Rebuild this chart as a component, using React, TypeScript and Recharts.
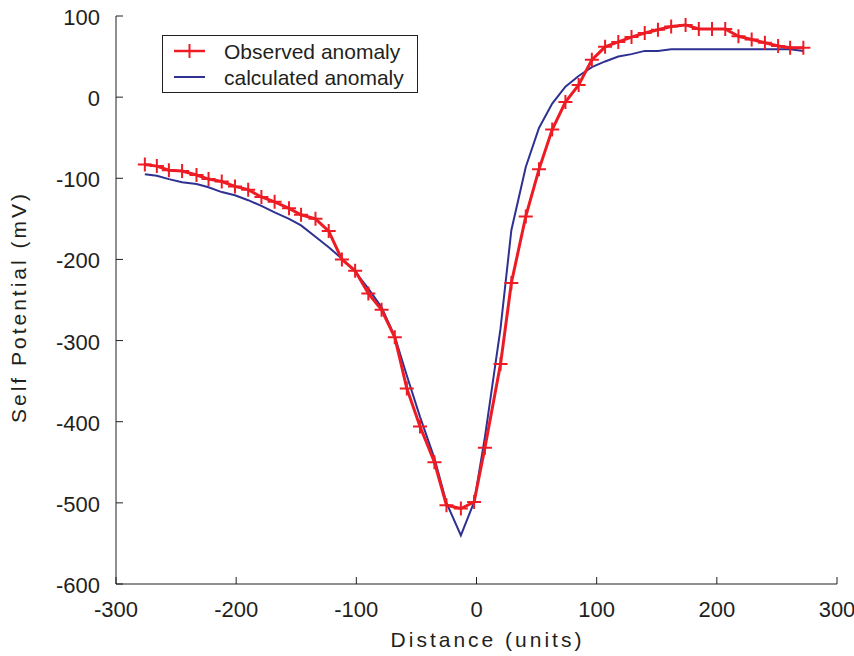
import { LineChart, Line, XAxis, YAxis, Legend, Label } from "recharts"

const RED = "#ED1C24"
const BLUE = "#2E3192"
const INK = "#231F20"
const FONT = "'Liberation Sans', Arial, sans-serif"

// distance of each station (units)
const distancia = [
  -276, -266, -256, -245, -233, -223, -212, -201, -190, -179, -168, -156, -146, -134, -123, -112, -101,
  -90, -79, -68, -58, -47, -35, -25, -13, -2, 7, 20, 29, 41, 52, 63, 74, 85, 96, 107, 118, 129, 140,
  151, 162, 174, 185, 196, 207, 218, 229, 240, 251, 261, 272,
]

const observado = [
  -83, -85, -90, -91, -96, -101, -104, -110, -114, -123, -129, -137, -145, -150, -165, -200, -214,
  -242, -262, -296, -359, -406, -450, -503, -507, -499, -432, -329, -229, -147, -89, -40, -6, 15, 46,
  62, 68, 74, 79, 83, 87, 89, 84, 84, 84, 75, 71, 67, 63, 61, 61,
]

const calculado = [
  -95, -97, -101, -105, -107, -111, -117, -121, -127, -134, -142, -150, -158, -172, -185, -199, -215,
  -236, -259, -295, -343, -394, -445, -500, -540, -499, -419, -285, -164, -86, -38, -8, 13, 26, 37,
  44, 50, 53, 57, 57, 59, 59, 59, 59, 59, 59, 59, 59, 59, 59, 57,
]

const ticksX = [-300, -200, -100, 0, 100, 200, 300]
const ticksY = [-600, -500, -400, -300, -200, -100, 0, 100]

const dados = distancia.map((x, i) => ({ x, obs: observado[i], calc: calculado[i] }))

const TICK = 7

function TickBaixo(p: any) {
  return (
    <g>
      <line x1={p.x} x2={p.x} y1={p.y} y2={p.y - TICK} stroke={INK} strokeWidth={1} />
      <text x={p.x} y={p.y + 33} textAnchor="middle" fontSize={22} fontFamily={FONT} fill={INK}>
        {p.payload.value}
      </text>
    </g>
  )
}

function TickCima(p: any) {
  return <line x1={p.x} x2={p.x} y1={p.y} y2={p.y + TICK} stroke={INK} strokeWidth={1} />
}

function TickEsq(p: any) {
  return (
    <g>
      <line x1={p.x} x2={p.x + TICK} y1={p.y} y2={p.y} stroke={INK} strokeWidth={1} />
      <text x={p.x - 16} y={p.y + 9} textAnchor="end" fontSize={22} fontFamily={FONT} fill={INK}>
        {p.payload.value}
      </text>
    </g>
  )
}

function TickDir(p: any) {
  return <line x1={p.x} x2={p.x - TICK} y1={p.y} y2={p.y} stroke={INK} strokeWidth={1} />
}

function Cruz(props: any) {
  const { cx, cy, index } = props
  if (cx == null || cy == null) return <g key={`c${index}`} />
  return (
    <path
      key={`c${index}`}
      d={`M${cx - 7},${cy}h14M${cx},${cy - 7}v14`}
      stroke={RED}
      strokeWidth={2}
      fill="none"
    />
  )
}

function Legenda() {
  return (
    <div style={{ width: 256, height: 58, border: `1px solid ${INK}`, background: "#fff", boxSizing: "border-box" }}>
      <svg width={254} height={56} style={{ display: "block" }}>
        <line x1={11} x2={42} y1={15} y2={15} stroke={RED} strokeWidth={2.5} />
        <path d="M26.5,8v14" stroke={RED} strokeWidth={2} />
        <text x={61} y={23} fontSize={21} fontFamily={FONT} fill={INK}>
          Observed anomaly
        </text>
        <line x1={11} x2={42} y1={41} y2={41} stroke={BLUE} strokeWidth={2} />
        <text x={61} y={49} fontSize={21} fontFamily={FONT} fill={INK}>
          calculated anomaly
        </text>
      </svg>
    </div>
  )
}

export default function App() {
  return (
    <div style={{ position: "absolute", left: 0, top: 0, width: 854, height: 656, background: "#fff" }}>
      <LineChart width={854} height={656} data={dados} margin={{ top: 16, right: 17, bottom: 0, left: 0 }}>
        <XAxis
          dataKey="x"
          type="number"
          domain={[-300, 300]}
          ticks={ticksX}
          height={72}
          stroke={INK}
          tickLine={false}
          tickSize={0}
          tickMargin={0}
          tick={TickBaixo}
          interval={0}
        >
          <Label
            content={(props: any) => {
              const vb = props.viewBox
              return (
                <text
                  x={vb.x + vb.width / 2 + 11}
                  y={vb.y + 63}
                  textAnchor="middle"
                  fontSize={21}
                  letterSpacing={3}
                  fontFamily={FONT}
                  fill={INK}
                >
                  Distance (units)
                </text>
              )
            }}
          />
        </XAxis>
        <XAxis
          xAxisId="top"
          orientation="top"
          dataKey="x"
          type="number"
          domain={[-300, 300]}
          ticks={ticksX}
          height={0}
          stroke={INK}
          tickLine={false}
          tickSize={0}
          tickMargin={0}
          tick={TickCima}
          interval={0}
        />
        <YAxis
          type="number"
          domain={[-600, 100]}
          ticks={ticksY}
          width={116}
          stroke={INK}
          tickLine={false}
          tickSize={0}
          tickMargin={0}
          tick={TickEsq}
          interval={0}
        >
          <Label
            content={(props: any) => {
              const vb = props.viewBox
              const cx = vb.x + 26
              const cy = vb.y + vb.height / 2 + 7
              return (
                <text
                  x={cx}
                  y={cy}
                  transform={`rotate(-90, ${cx}, ${cy})`}
                  textAnchor="middle"
                  fontSize={21}
                  letterSpacing={3}
                  fontFamily={FONT}
                  fill={INK}
                >
                  Self Potential (mV)
                </text>
              )
            }}
          />
        </YAxis>
        <YAxis
          yAxisId="right"
          orientation="right"
          type="number"
          domain={[-600, 100]}
          ticks={ticksY}
          width={0}
          stroke={INK}
          tickLine={false}
          tickSize={0}
          tickMargin={0}
          tick={TickDir}
          interval={0}
        />
        <Legend
          layout="vertical"
          align="center"
          verticalAlign="middle"
          content={() => <Legenda />}
          wrapperStyle={{ left: 162, top: 35, width: 256, height: 58 }}
        />
        <Line
          dataKey="calc"
          name="calculated anomaly"
          type="linear"
          stroke={BLUE}
          strokeWidth={2}
          dot={false}
          isAnimationActive={false}
        />
        <Line
          dataKey="obs"
          name="Observed anomaly"
          type="linear"
          stroke={RED}
          strokeWidth={3}
          dot={Cruz}
          isAnimationActive={false}
        />
      </LineChart>
    </div>
  )
}
